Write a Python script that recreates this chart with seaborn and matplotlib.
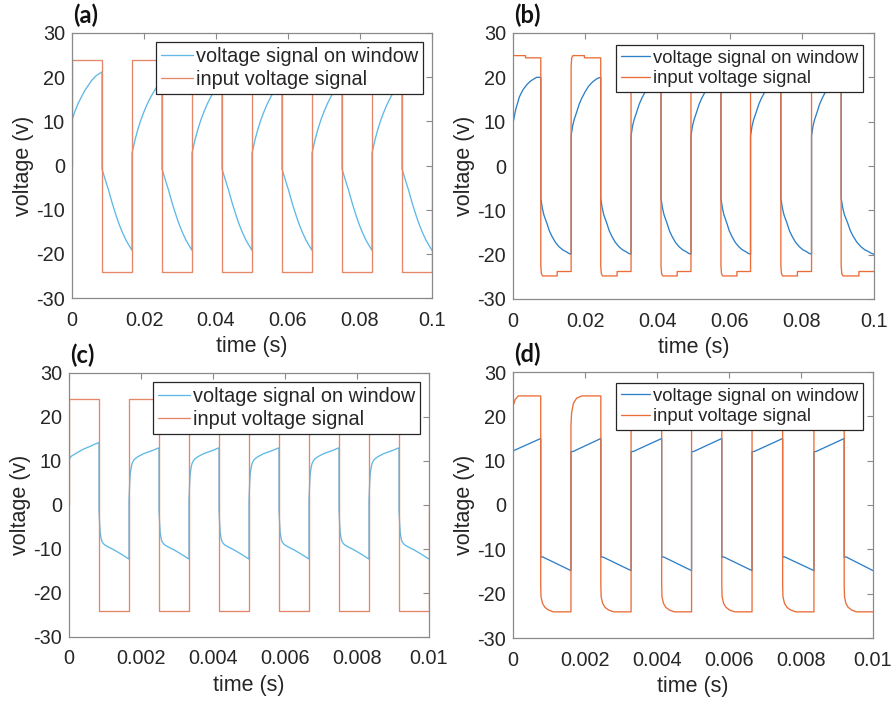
import numpy as np
import pandas as pd
import matplotlib
matplotlib.use("Agg")
import matplotlib.pyplot as plt
import seaborn as sns

# ---------------- data ----------------
LEG_WINDOW = "voltage signal on window"
LEG_INPUT = "input voltage signal"
panel_labels = ["(a)", "(b)", "(c)", "(d)"]
x_label = "time (s)"
y_label = "voltage (v)"
y_ticks = [-30, -20, -10, 0, 10, 20, 30]
x_ticks_slow = [0, 0.02, 0.04, 0.06, 0.08, 0.1]
x_ticklabels_slow = ["0", "0.02", "0.04", "0.06", "0.08", "0.1"]
x_ticks_fast = [0, 0.002, 0.004, 0.006, 0.008, 0.01]
x_ticklabels_fast = ["0", "0.002", "0.004", "0.006", "0.008", "0.01"]

# (a) 60 Hz, simulated
a_switch = [0.0, 0.00833, 0.01667, 0.025, 0.03333, 0.04167, 0.05,
            0.05833, 0.06667, 0.075, 0.08333, 0.09167, 0.1]
a_in_first_frac = [0.0, 1.0]
a_in_first_val = [24.0, 24.0]
a_in_high_frac = [0.0, 1.0]
a_in_high_val = [24.0, 24.0]
a_in_low_frac = [0.0, 1.0]
a_in_low_val = [-24.0, -24.0]
a_in_start, a_in_end = 0.0, 0.0
a_win_first_frac = [0.0, 0.1, 0.2, 0.32, 0.43, 0.55, 0.66, 0.8, 1.0]
a_win_first_val = [10.3, 12.3, 14.0, 15.6, 17.0, 18.2, 19.3, 20.3, 21.2]
a_win_rise_frac = [0.0, 0.1, 0.2, 0.3, 0.4, 0.5, 0.6, 0.7, 0.8, 0.9, 1.0]
a_win_rise_val = [2.8, 5.8, 8.3, 10.4, 12.2, 13.8, 15.2, 16.4, 17.5, 18.4, 19.2]
a_win_fall_frac = [0.0, 0.1, 0.22, 0.33, 0.45, 0.56, 0.67, 0.8, 0.9, 1.0]
a_win_fall_val = [-0.8, -3.0, -5.6, -8.3, -10.9, -13.1, -15.0, -16.9, -18.1, -19.2]

# (b) 60 Hz, measured
b_switch = [0.0, 0.0077, 0.0161, 0.0243, 0.0327, 0.041, 0.0493,
            0.0576, 0.0658, 0.0742, 0.0827, 0.0909, 0.1]
b_in_first_frac = [0.0, 0.45, 0.45, 1.0]
b_in_first_val = [24.9, 24.9, 24.4, 24.4]
b_in_high_frac = [0.0, 0.02, 0.06, 0.45, 0.45, 1.0]
b_in_high_val = [22.5, 24.4, 24.9, 24.9, 24.4, 24.4]
b_in_low_frac = [0.0, 0.02, 0.06, 0.54, 0.54, 1.0]
b_in_low_val = [-22.5, -24.3, -24.8, -24.8, -23.8, -23.8]
b_in_start, b_in_end = None, None
b_win_first_frac = [0.0, 0.1, 0.23, 0.36, 0.49, 0.62, 0.74, 0.85, 1.0]
b_win_first_val = [9.7, 12.8, 15.6, 17.2, 18.3, 19.1, 19.6, 20.0, 20.0]
b_win_rise_frac = [0.0, 0.05, 0.1, 0.19, 0.27, 0.36, 0.47, 0.58, 0.7, 0.81, 0.9, 1.0]
b_win_rise_val = [6.8, 9.0, 10.4, 12.2, 13.9, 15.3, 16.7, 17.9, 18.8, 19.4, 19.8, 20.0]
b_win_fall_frac = [0.0, 0.05, 0.1, 0.2, 0.28, 0.37, 0.48, 0.6, 0.72, 0.83, 0.92, 1.0]
b_win_fall_val = [-7.3, -9.5, -11.0, -12.9, -14.6, -15.9, -17.2, -18.2, -18.9, -19.3, -19.7, -19.9]

# (c) 600 Hz, simulated
c_switch = [0.0, 0.000833, 0.001667, 0.0025, 0.003333, 0.004167, 0.005,
            0.005833, 0.006667, 0.0075, 0.008333, 0.009167, 0.01]
c_in_first_frac = [0.0, 1.0]
c_in_first_val = [24.0, 24.0]
c_in_high_frac = [0.0, 1.0]
c_in_high_val = [24.0, 24.0]
c_in_low_frac = [0.0, 1.0]
c_in_low_val = [-24.0, -24.0]
c_in_start, c_in_end = 0.0, 0.0
c_win_first_frac = [0.0, 0.03, 0.08, 0.15, 0.25, 0.4, 0.55, 0.7, 0.85, 1.0]
c_win_first_val = [10.2, 10.7, 11.1, 11.4, 11.8, 12.4, 12.9, 13.3, 13.8, 14.2]
c_win_rise_frac = [0.0, 0.02, 0.04, 0.07, 0.1, 0.15, 0.2, 0.3, 0.5, 0.75, 1.0]
c_win_rise_val = [1.0, 4.5, 7.0, 8.5, 9.4, 10.1, 10.5, 11.0, 11.7, 12.3, 13.0]
c_win_fall_frac = [0.0, 0.02, 0.04, 0.07, 0.1, 0.15, 0.2, 0.3, 0.5, 0.75, 1.0]
c_win_fall_val = [-1.0, -4.0, -6.2, -7.6, -8.3, -8.8, -9.1, -9.5, -10.2, -11.2, -12.3]

# (d) 600 Hz, measured
d_switch = [0.0, 0.00077, 0.00161, 0.00244, 0.00328, 0.00413, 0.00496,
            0.0058, 0.00664, 0.00749, 0.00836, 0.0092, 0.01]
d_in_first_frac = [0.0, 0.04, 0.08, 0.19, 1.0]
d_in_first_val = [22.5, 23.0, 23.8, 24.6, 24.6]
d_in_high_frac = [0.0, 0.02, 0.08, 0.19, 0.36, 1.0]
d_in_high_val = [18.0, 20.7, 22.9, 24.1, 24.6, 24.6]
d_in_low_frac = [0.0, 0.01, 0.06, 0.14, 0.26, 0.42, 1.0]
d_in_low_val = [-18.0, -20.7, -22.2, -23.1, -23.7, -24.1, -24.1]
d_in_start, d_in_end = None, None
d_win_first_frac = [0.0, 1.0]
d_win_first_val = [12.2, 15.0]
d_win_rise_frac = [0.0, 0.08, 1.0]
d_win_rise_val = [12.0, 12.1, 15.0]
d_win_fall_frac = [0.0, 0.06, 1.0]
d_win_fall_val = [-11.8, -11.7, -14.8]


def build(switch, first_f, first_v, high_f, high_v, low_f, low_v,
          start=None, end=None):
    ts, vs = [], []
    if start is not None:
        ts.append(switch[0]); vs.append(start)
    for k in range(len(switch) - 1):
        t0, t1 = switch[k], switch[k + 1]
        if k == 0:
            f, v = first_f, first_v
        elif k % 2 == 1:
            f, v = low_f, low_v
        else:
            f, v = high_f, high_v
        for fi, vi in zip(f, v):
            ts.append(t0 + fi * (t1 - t0)); vs.append(vi)
    if end is not None:
        ts.append(switch[-1]); vs.append(end)
    return pd.DataFrame({"time": ts, "voltage": vs})


panels = [
    dict(sw=a_switch,
         inp=(a_in_first_frac, a_in_first_val, a_in_high_frac, a_in_high_val,
              a_in_low_frac, a_in_low_val, a_in_start, a_in_end),
         win=(a_win_first_frac, a_win_first_val, a_win_rise_frac, a_win_rise_val,
              a_win_fall_frac, a_win_fall_val),
         xt=x_ticks_slow, xtl=x_ticklabels_slow, xmax=0.1,
         c_win="#5FB8E6", c_in="#E48869", pos=[72, 33, 432, 298],
         leg=(0.975, 0.966), legfs=14.3),
    dict(sw=b_switch,
         inp=(b_in_first_frac, b_in_first_val, b_in_high_frac, b_in_high_val,
              b_in_low_frac, b_in_low_val, b_in_start, b_in_end),
         win=(b_win_first_frac, b_win_first_val, b_win_rise_frac, b_win_rise_val,
              b_win_fall_frac, b_win_fall_val),
         xt=x_ticks_slow, xtl=x_ticklabels_slow, xmax=0.1,
         c_win="#2E80C8", c_in="#EB6D38", pos=[513, 33, 874, 299],
         leg=(0.9695, 0.955), legfs=13.3),
    dict(sw=c_switch,
         inp=(c_in_first_frac, c_in_first_val, c_in_high_frac, c_in_high_val,
              c_in_low_frac, c_in_low_val, c_in_start, c_in_end),
         win=(c_win_first_frac, c_win_first_val, c_win_rise_frac, c_win_rise_val,
              c_win_fall_frac, c_win_fall_val),
         xt=x_ticks_fast, xtl=x_ticklabels_fast, xmax=0.01,
         c_win="#5FB8E6", c_in="#E48869", pos=[69, 373, 429, 637],
         leg=(0.975, 0.966), legfs=14.3),
    dict(sw=d_switch,
         inp=(d_in_first_frac, d_in_first_val, d_in_high_frac, d_in_high_val,
              d_in_low_frac, d_in_low_val, d_in_start, d_in_end),
         win=(d_win_first_frac, d_win_first_val, d_win_rise_frac, d_win_rise_val,
              d_win_fall_frac, d_win_fall_val),
         xt=x_ticks_fast, xtl=x_ticklabels_fast, xmax=0.01,
         c_win="#2E80C8", c_in="#EB6D38", pos=[513, 372, 873, 638],
         leg=(0.972, 0.959), legfs=13.3),
]

sns.set_theme(style="white")
plt.rcParams["font.family"] = ["Liberation Sans", "DejaVu Sans"]

W, H = 893, 704
fig = plt.figure(figsize=(W / 100, H / 100), dpi=100)
TXT = "#262626"
SPINE = "#8a8a8a"

for i, p in enumerate(panels):
    x0, y0, x1, y1 = p["pos"]
    ax = fig.add_axes([x0 / W, 1 - y1 / H, (x1 - x0) / W, (y1 - y0) / H])
    ff, fv, hf, hv, lf, lv, st, en = p["inp"]
    df_in = build(p["sw"], ff, fv, hf, hv, lf, lv, st, en)
    wf, wv, rf, rv, flf, flv = p["win"]
    df_win = build(p["sw"], wf, wv, rf, rv, flf, flv)
    sns.lineplot(data=df_win, x="time", y="voltage", ax=ax, color=p["c_win"],
                 lw=0.95, estimator=None, sort=False, label=LEG_WINDOW)
    sns.lineplot(data=df_in, x="time", y="voltage", ax=ax, color=p["c_in"],
                 lw=0.95, estimator=None, sort=False, label=LEG_INPUT)
    ax.set_xlim(0, p["xmax"])
    ax.set_ylim(-30, 30)
    ax.set_yticks(y_ticks)
    ax.set_yticklabels([str(v) for v in y_ticks])
    ax.set_xticks(p["xt"])
    ax.set_xticklabels(p["xtl"])
    ax.tick_params(axis="both", direction="in", length=4, width=0.8,
                   color=SPINE, labelsize=14.3, labelcolor=TXT,
                   top=True, right=True)
    ax.tick_params(axis="x", pad=9)
    ax.tick_params(axis="y", pad=5)
    for s in ax.spines.values():
        s.set_color(SPINE)
        s.set_linewidth(0.9)
    ax.set_xlabel(x_label, fontsize=15.5, color=TXT, labelpad=5)
    ax.set_ylabel(y_label, fontsize=15.5, color=TXT, labelpad=2)
    leg = ax.legend(loc="upper right", bbox_to_anchor=p["leg"],
                    borderaxespad=0, fontsize=p["legfs"], frameon=True,
                    fancybox=False, handlelength=1.6, handletextpad=0.15,
                    borderpad=0.25, labelspacing=0.2, framealpha=1)
    leg.get_frame().set_edgecolor("#262626")
    leg.get_frame().set_linewidth(0.9)
    for t in leg.get_texts():
        t.set_color(TXT)
    fig.text((x0 + 1) / W, 1 - (y0 - 17.5) / H, panel_labels[i],
             fontsize=17, fontweight="bold", family=["Lato", "DejaVu Sans"],
             ha="left", va="center", color="#111111")

fig.savefig("out.png", dpi=100)
